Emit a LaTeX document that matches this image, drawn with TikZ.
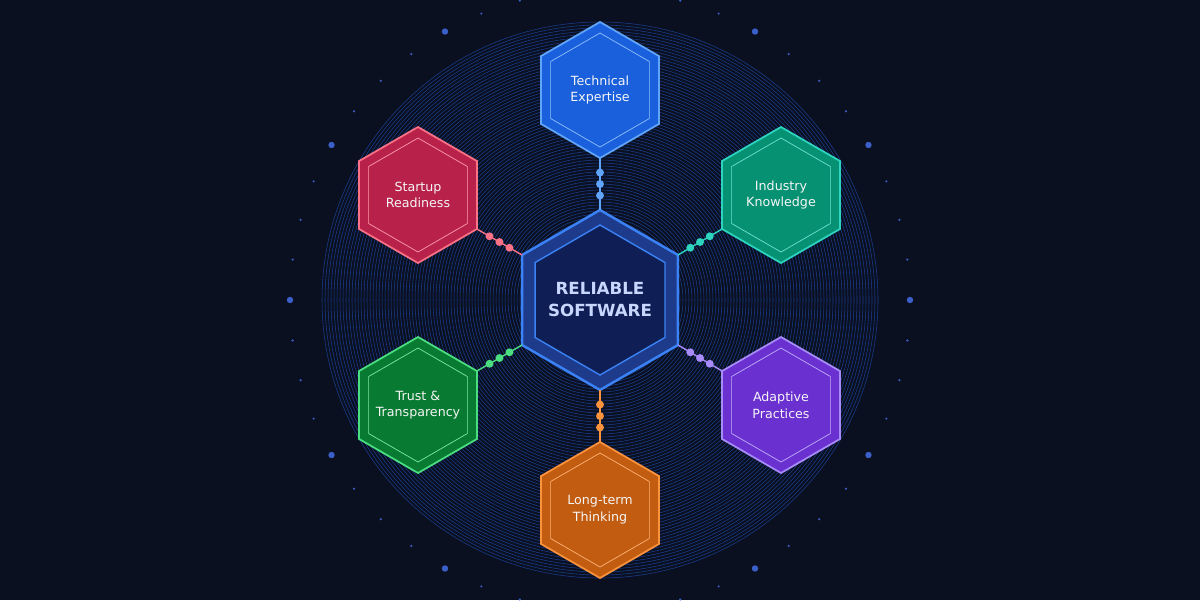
\documentclass[tikz,border=0pt]{standalone}
\usepackage{fontspec}
\setmainfont{DejaVu Sans}
\usetikzlibrary{calc}
\definecolor{bgdark}{HTML}{0B1020}
\definecolor{ringblue}{HTML}{2563EB}
\definecolor{dotblue}{HTML}{3B5FC8}
\definecolor{corefill}{HTML}{1E3A8A}
\definecolor{coreinner}{HTML}{0F1F55}
\definecolor{coreline}{HTML}{3B82F6}
\definecolor{coretext}{HTML}{C7D7FE}
\definecolor{techfill}{HTML}{1A5FDC}\definecolor{techline}{HTML}{60A5FA}
\definecolor{indfill}{HTML}{069173}\definecolor{indline}{HTML}{2DD4BF}
\definecolor{adpfill}{HTML}{6A30D0}\definecolor{adpline}{HTML}{A78BFA}
\definecolor{lngfill}{HTML}{C25C10}\definecolor{lngline}{HTML}{FB923C}
\definecolor{trsfill}{HTML}{087A32}\definecolor{trsline}{HTML}{4ADE80}
\definecolor{stufill}{HTML}{B8224A}\definecolor{stuline}{HTML}{FB7185}
\tikzset{
  hexlabel/.style={text=white!92!gray, align=center, font=\fontsize{7.2}{9.5}\selectfont},
  linkdot/.style={circle, fill=#1, inner sep=0pt, minimum size=4.5pt},
}
% name, x, y, label, fill, line
\newcommand\hexcell[6]{%
  \begin{scope}[shift={(#2,#3)}]
    \draw[#6, line width=1pt, fill=#5] (30:68) \foreach \a in {90,150,...,330}{-- (\a:68)} -- cycle;
    \draw[#6!70!white, line width=0.4pt] (30:57) \foreach \a in {90,150,...,330}{-- (\a:57)} -- cycle;
    \foreach \a in {30,90,...,330}{\coordinate (#1-\a) at (\a:68);}
    \node[hexlabel] (#1) at (0,0) {#4};
  \end{scope}}
% from center vertex, to outer vertex, colour
\newcommand\hexlink[3]{%
  \draw[#3, line width=0.8pt] (#1) -- (#2)
    node[linkdot=#3, pos=0.28] {} node[linkdot=#3, pos=0.5] {} node[linkdot=#3, pos=0.72] {};}

\begin{document}
\begin{tikzpicture}[x=0.02cm, y=-0.02cm]
  \fill[bgdark] (0,0) rectangle (1200,600);
  \useasboundingbox (0,0) rectangle (1200,600);
  % rings
  \foreach \r in {20,23,...,280}
    \draw[ringblue, line width=0.3pt, opacity=0.55] (600,300) circle (\r);
  % outer dots
  \foreach \a in {0,7.5,...,352.5}{
    \pgfmathtruncatemacro\m{mod(round(\a*2),60)}
    \ifnum\m=0
      \fill[dotblue] ($(600,300)+(\a:310)$) circle (3.2);
    \else
      \fill[dotblue] ($(600,300)+(\a:310)$) circle (1.2);
    \fi}
  % core
  \begin{scope}[shift={(600,300)}]
    \draw[coreline, line width=1.4pt, fill=corefill] (30:90) \foreach \a in {90,150,...,330}{-- (\a:90)} -- cycle;
    \draw[coreline, line width=0.8pt, fill=coreinner] (30:75) \foreach \a in {90,150,...,330}{-- (\a:75)} -- cycle;
    \foreach \a in {30,90,...,330}{\coordinate (core-\a) at (\a:90);}
    \node[text=coretext, align=center, font=\bfseries\fontsize{9.5}{12.5}\selectfont] (core) at (0,0) {RELIABLE\\SOFTWARE};
  \end{scope}
  % petals
  \hexcell{tech}{600}{90}{Technical\\Expertise}{techfill}{techline}
  \hexcell{ind}{781}{195}{Industry\\Knowledge}{indfill}{indline}
  \hexcell{adp}{781}{405}{Adaptive\\Practices}{adpfill}{adpline}
  \hexcell{lng}{600}{510}{Long-term\\Thinking}{lngfill}{lngline}
  \hexcell{trs}{418}{405}{Trust \&\\Transparency}{trsfill}{trsline}
  \hexcell{stu}{418}{195}{Startup\\Readiness}{stufill}{stuline}
  % links
  \hexlink{core-270}{tech-90}{techline}
  \hexlink{core-330}{ind-150}{indline}
  \hexlink{core-30}{adp-210}{adpline}
  \hexlink{core-90}{lng-270}{lngline}
  \hexlink{core-150}{trs-330}{trsline}
  \hexlink{core-210}{stu-30}{stuline}
\end{tikzpicture}
\end{document}
